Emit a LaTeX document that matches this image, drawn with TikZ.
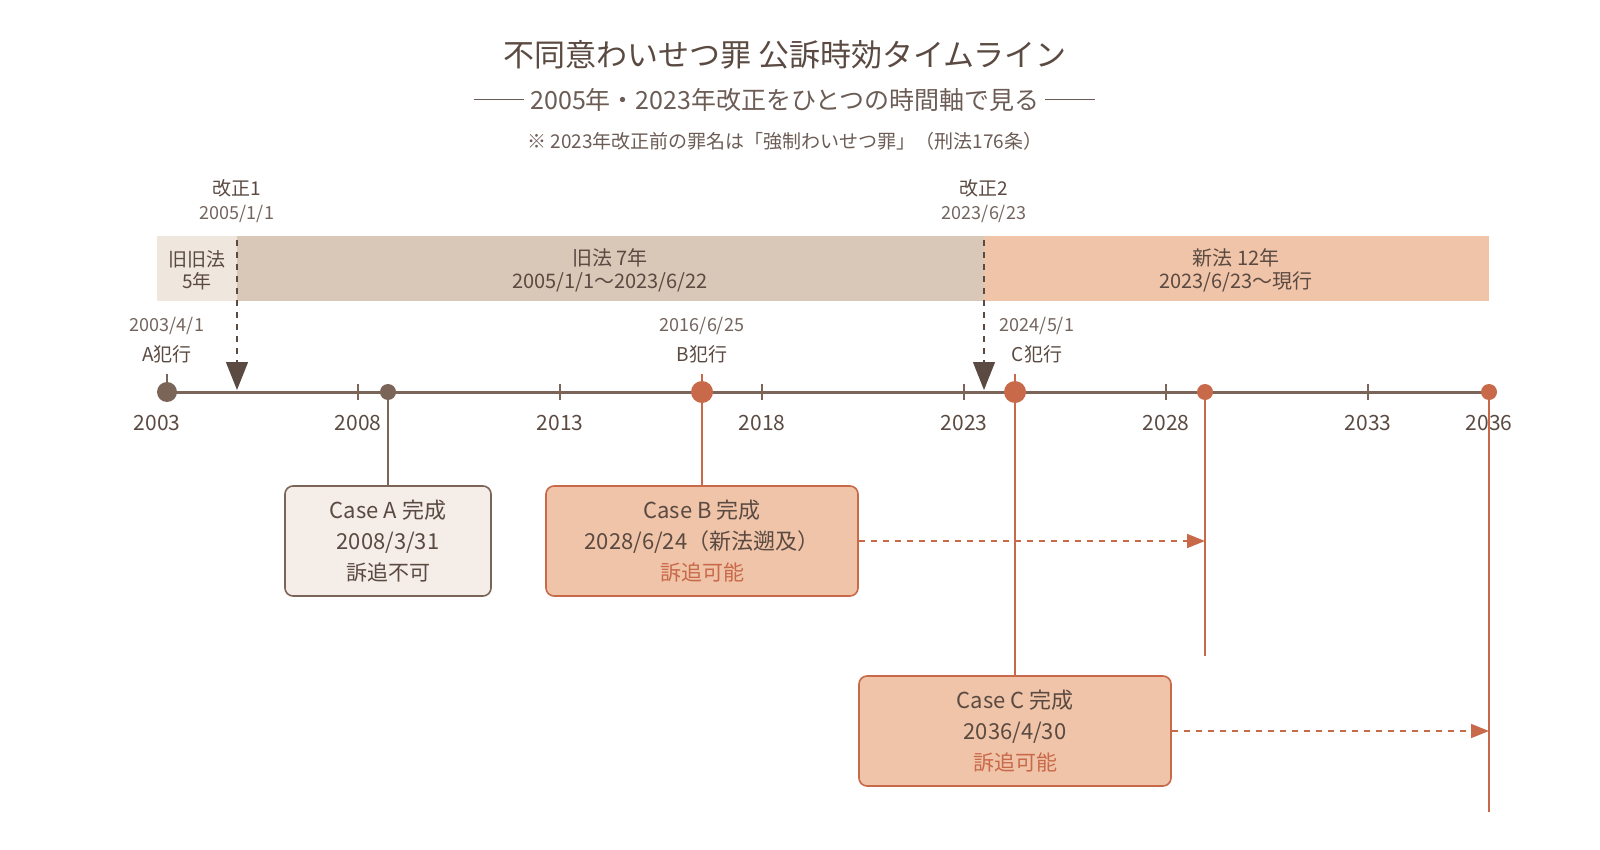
\documentclass[tikz,border=0pt]{standalone}
\usepackage{fontspec}
\setmainfont{Noto Sans CJK JP}
\usetikzlibrary{arrows.meta}
\definecolor{ink}{HTML}{5A4A42}
\definecolor{brn}{HTML}{7A6558}
\definecolor{org}{HTML}{C8694A}
\definecolor{oldold}{HTML}{EFE6DE}
\definecolor{old}{HTML}{D9C8B8}
\definecolor{new}{HTML}{F0C4A8}
\definecolor{boxa}{HTML}{F5EDE8}
\begin{document}
\begin{tikzpicture}[x=0.5pt,y=-0.5pt,
  lbl/.style={text=ink,font=\fontsize{9.5}{11}\selectfont,inner sep=1pt},
  date/.style={text=ink!85,font=\fontsize{9}{10}\selectfont,inner sep=1pt},
  case/.style={draw,rounded corners=4pt,line width=0.8pt,minimum width=103pt,minimum height=55pt,align=center,text=ink,font=\fontsize{11}{15.5}\selectfont}]
\useasboundingbox (0,0) rectangle (1600,850);
% titles
\node[text=ink,font=\fontsize{15.5}{17}\selectfont] (title) at (785,55) {不同意わいせつ罪 公訴時効タイムライン};
\node[text=ink!90,font=\fontsize{12.5}{14}\selectfont] (sub) at (785,100) {── 2005年・2023年改正をひとつの時間軸で見る ──};
\node[text=ink!90,font=\fontsize{9.5}{10}\selectfont] (note) at (785,141) {※ 2023年改正前の罪名は「強制わいせつ罪」（刑法176条）};
% bands
\fill[oldold] (157,236) rectangle (237,301);
\fill[old] (237,236) rectangle (984,301);
\fill[new] (984,236) rectangle (1489,301);
\node[lbl,align=center,font=\fontsize{9.5}{11}\selectfont] (b0) at (197,270) {旧旧法\\5年};
\node[lbl,align=center,font=\fontsize{10}{11.5}\selectfont] (b1) at (610,270) {旧法 7年\\2005/1/1〜2023/6/22};
\node[lbl,align=center,font=\fontsize{10}{11.5}\selectfont] (b2) at (1236,270) {新法 12年\\2023/6/23〜現行};
% amendments
\node[lbl] (k1) at (237,188) {改正1};
\node[date] (k1d) at (237,214) {2005/1/1};
\node[lbl] (k2) at (984,188) {改正2};
\node[date] (k2d) at (984,214) {2023/6/23};
\coordinate (k1t) at (237,240); \coordinate (k1b) at (237,390);
\coordinate (k2t) at (984,240); \coordinate (k2b) at (984,390);
\draw[ink,dashed,line width=0.6pt,-{Triangle[width=11pt,length=14pt]}] (k1t) -- (k1b);
\draw[ink,dashed,line width=0.6pt,-{Triangle[width=11pt,length=14pt]}] (k2t) -- (k2b);
% axis
\coordinate (ax0) at (167,392); \coordinate (ax1) at (1489,392);
\draw[brn,line width=1.5pt] (ax0) -- (ax1);
\foreach \y/\x in {2008/358,2013/560,2018/762,2023/964,2028/1166,2033/1368,2036/1489}{
  \draw[brn,line width=0.8pt] (\x,384) -- (\x,400);
}
\foreach \y/\x in {2003/157,2008/358,2013/560,2018/762,2023/964,2028/1166,2033/1368,2036/1489}{
  \node[lbl,font=\fontsize{10.5}{12}\selectfont] (y\y) at (\x,423) {\y};
}
% events
\node[date] (ad) at (167,326) {2003/4/1};
\node[lbl] (al) at (167,354) {A犯行};
\node[date] (bd) at (702,326) {2016/6/25};
\node[lbl] (bl) at (702,354) {B犯行};
\node[date] (cd) at (1037,326) {2024/5/1};
\node[lbl] (cl) at (1037,354) {C犯行};
% boxes
\node[case,draw=brn,fill=boxa] (ca) at (388,541) {Case A 完成\\2008/3/31\\{\fontsize{10.5}{12}\selectfont 訴追不可}};
\node[case,draw=org,fill=new,minimum width=156pt] (cb) at (702,541) {Case B 完成\\2028/6/24（新法遡及）\\{\fontsize{10.5}{12}\selectfont\color{org}訴追可能}};
\node[case,draw=org,fill=new,minimum width=156pt] (cc) at (1015,731) {Case C 完成\\2036/4/30\\{\fontsize{10.5}{12}\selectfont\color{org}訴追可能}};
% stems
\coordinate (ea) at (388,392); \coordinate (ea2) at (1205,392);
\coordinate (ec) at (1015,392); \coordinate (eb) at (702,392);
\coordinate (ec2) at (1489,392);
\coordinate (fb) at (1205,656); \coordinate (fc) at (1489,812);
\coordinate (hb) at (1205,541); \coordinate (hc) at (1489,731);
\draw[brn,line width=1pt] (ea) -- (ca.north);
\draw[org,line width=1pt] (eb) -- (cb.north);
\draw[org,line width=1pt] (ec) -- (cc.north);
\draw[org,line width=1pt] (ea2) -- (fb);
\draw[org,line width=1pt] (ec2) -- (fc);
\draw[org,dashed,line width=0.8pt,-{Triangle[width=7pt,length=9pt]}] (cb.east) -- (hb);
\draw[org,dashed,line width=0.8pt,-{Triangle[width=7pt,length=9pt]}] (cc.east) -- (hc);
\draw[brn,line width=0.8pt] (167,374) -- (167,392);
\draw[org,line width=0.8pt] (702,374) -- (702,392);
\draw[org,line width=0.8pt] (1015,374) -- (1015,392);
% dots
\fill[brn] (167,392) circle (5pt);
\fill[brn] (388,392) circle (4pt);
\fill[org] (702,392) circle (5.5pt);
\fill[org] (1015,392) circle (5.5pt);
\fill[org] (1205,392) circle (4pt);
\fill[org] (1489,392) circle (4pt);
\end{tikzpicture}
\end{document}
